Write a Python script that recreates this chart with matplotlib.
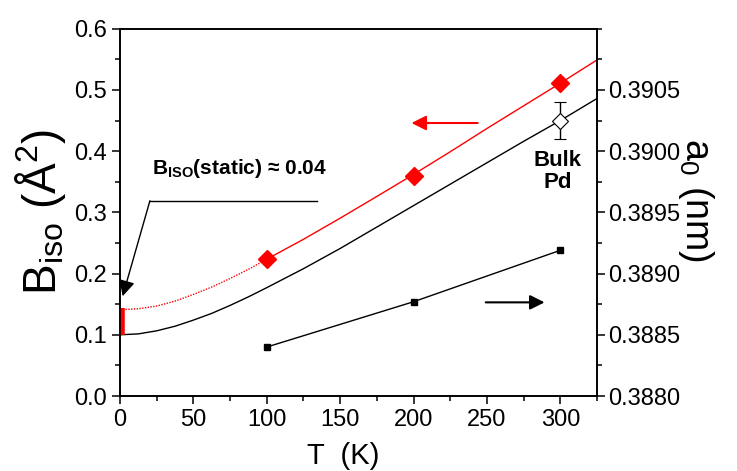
import matplotlib
matplotlib.use("Agg")
import matplotlib.pyplot as plt
from matplotlib.ticker import MultipleLocator, FormatStrFormatter

plt.rcParams['font.family'] = ['Liberation Sans', 'DejaVu Sans']
plt.rcParams['mathtext.fontset'] = 'custom'
plt.rcParams['mathtext.rm'] = 'Liberation Sans'
plt.rcParams['mathtext.it'] = 'Liberation Sans'
plt.rcParams['mathtext.bf'] = 'Liberation Sans:bold'

# fitted curves
T_fit = [0, 12.5, 25, 37.5, 50, 62.5, 75, 87.5, 100, 125, 150, 175, 200,
         225, 250, 275, 300, 325]
B_fit_red = [0.141, 0.1425, 0.147, 0.155, 0.166, 0.178, 0.192, 0.207, 0.2235,
             0.256, 0.2905, 0.326, 0.362, 0.399, 0.437, 0.474, 0.511, 0.549]
B_fit_black = [0.100, 0.1015, 0.1065, 0.114, 0.124, 0.135, 0.148, 0.162, 0.177,
               0.208, 0.241, 0.276, 0.311, 0.346, 0.381, 0.416, 0.450, 0.486]

# measured B_iso (red diamonds)
T_meas = [100, 200, 300]
B_meas = [0.2235, 0.359, 0.511]

# bulk Pd reference
T_bulk = [300]
B_bulk = [0.450]
B_bulk_err = [0.030]

# lattice parameter (right axis)
T_a0 = [100, 200, 300]
a0 = [0.38840, 0.38877, 0.38919]

# static part
B_static = [0.100, 0.143]

fig = plt.figure(figsize=(7.37, 4.71), dpi=100)
ax = fig.add_axes([0.1628, 0.1592, 0.6472, 0.7798])
ax2 = ax.twinx()

# red fit: dotted below 100 K, solid above
ax.plot(T_fit[:9], B_fit_red[:9], color='red', lw=1, ls=(0, (1, 1)))
ax.plot(T_fit[8:], B_fit_red[8:], color='red', lw=1)
ax.plot(T_fit, B_fit_black, color='black', lw=1)
ax.plot(T_meas, B_meas, ls='none', marker='D', ms=9, color='red', mec='red')
ax.errorbar(T_bulk, B_bulk, yerr=B_bulk_err, fmt='D', ms=8, mfc='white',
            mec='black', ecolor='black', elinewidth=1, capsize=4, mew=0.8)
ax.plot([1.2, 1.2], B_static, color='red', lw=4, solid_capstyle='butt',
        clip_on=False, zorder=5)

ax2.plot(T_a0, a0, color='black', lw=1, marker='s', ms=5)

# arrows
ax.annotate('', xy=(198.6, 0.446), xytext=(243.7, 0.446),
            arrowprops=dict(arrowstyle='-|>', color='red', lw=1.5,
                            mutation_scale=22, shrinkA=0, shrinkB=0))
ax.annotate('', xy=(289.3, 0.153), xytext=(249.2, 0.153),
            arrowprops=dict(arrowstyle='-|>', color='black', lw=1.5,
                            mutation_scale=22, shrinkA=0, shrinkB=0))

# static annotation
ax.plot([134, 20.4], [0.319, 0.319], color='black', lw=1)
ax.annotate('', xy=(1.8, 0.163), xytext=(20.4, 0.319),
            arrowprops=dict(arrowstyle='-|>', color='black', lw=1,
                            mutation_scale=24, shrinkA=0, shrinkB=0))
ax.text(81.7, 0.371, r'$\mathbf{B_{ISO}}$(static) ≈ 0.04', ha='center',
        va='center', fontsize=15, fontweight='bold')
ax.text(298, 0.367, 'Bulk\nPd', ha='center', va='center', fontsize=16,
        fontweight='bold', linespacing=1.05)

ax.set_xlim(0, 325)
ax.set_ylim(0, 0.6)
ax2.set_ylim(0.3880, 0.3910)

ax.xaxis.set_major_locator(MultipleLocator(50))
ax.xaxis.set_minor_locator(MultipleLocator(25))
ax.yaxis.set_major_locator(MultipleLocator(0.1))
ax.yaxis.set_minor_locator(MultipleLocator(0.05))
ax.yaxis.set_major_formatter(FormatStrFormatter('%.1f'))
ax2.set_yticks([0.3880, 0.3885, 0.3890, 0.3895, 0.3900, 0.3905])
ax2.yaxis.set_minor_locator(MultipleLocator(0.00025))
ax2.yaxis.set_major_formatter(FormatStrFormatter('%.4f'))

for a in (ax, ax2):
    for s in a.spines.values():
        s.set_linewidth(1.2)
    a.tick_params(which='major', direction='out', length=6, width=1.1,
                  labelsize=17)
    a.tick_params(which='minor', direction='out', length=3.5, width=1.1)
ax.tick_params(top=False, right=False, which='both')
ax2.tick_params(axis='y', pad=2)

ax.set_xlabel('T  (K)', fontsize=21, labelpad=2)
ax.xaxis.set_label_coords(0.467, -0.125)
ax.set_ylabel(r'B$_{\rm iso}$ (Å$^{2}$)', fontsize=33, labelpad=4)
ax2.set_ylabel(r'a$_{0}$ (nm)', fontsize=27, rotation=270)
ax2.yaxis.set_label_coords(1.25, 0.534)

fig.savefig('out.png', dpi=100)
